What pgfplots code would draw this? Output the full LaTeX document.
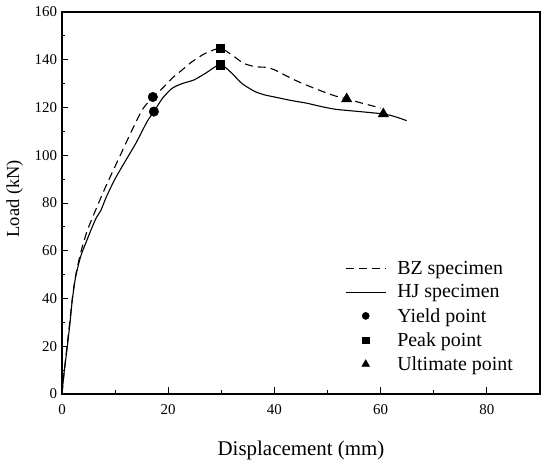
\documentclass[border=0pt]{standalone}
\usepackage{pgfplots}
\pgfplotsset{compat=1.18}
\usepackage{fontspec}
\setmainfont{Liberation Serif}
\pgfplotsset{
  legmark/.style={legend image code/.code={\draw[mark repeat=2,mark phase=2,##1,mark size=#1] plot coordinates {(0bp,0bp) (20bp,0bp) (40bp,0bp)};}},
}
\begin{document}
\begin{tikzpicture}
\path[use as bounding box] (-62bp,-71bp) rectangle (488bp,394bp);
\begin{axis}[
  at={(0,0)}, anchor=south west,
  scale only axis, width=478bp, height=382bp,
  xmin=0, xmax=90, ymin=0, ymax=160,
  xtick={0,20,...,80}, ytick={0,20,...,160},
  minor x tick num=1, minor y tick num=1,
  tick align=inside, xtick pos=bottom, ytick pos=left,
  major tick length=6.5bp, minor tick length=3.5bp,
  axis line style={line width=1.2bp},
  tick style={black, line width=0.9bp},
  tick label style={font=\fontsize{15}{18}\selectfont},
  xticklabel style={yshift=-7.5bp},
  yticklabel style={xshift=-1.5bp},
  /pgf/number format/assume math mode=true,
  xlabel={Displacement (mm)}, ylabel={Load (kN)},
  xlabel style={font=\fontsize{21}{25}\selectfont, at={(axis description cs:0.5,-0.147)}, anchor=center},
  ylabel style={font=\fontsize{18.5}{22}\selectfont, at={(axis description cs:-0.099,0.511)}, anchor=center},
  legend cell align=left,
  legend style={draw=none, fill=none, at={(axis description cs:0.592,0.348)}, anchor=north west,
    font=\fontsize{20}{24}\selectfont, inner sep=0pt, row sep=8.8bp,
    nodes={inner sep=0pt},
    /tikz/every odd column/.append style={column sep=11bp}},
  legend image code/.code={\draw[mark repeat=2,mark phase=2,#1] plot coordinates {(0bp,0bp) (20bp,0bp) (40bp,0bp)};},
]
\addplot[black, line width=1.1bp, dash pattern=on 8bp off 5bp, smooth, tension=0.4] coordinates {
(0,0) (0.4,9) (1,21) (1.5,31) (2,41) (2.6,50) (3.5,59) (4.8,68.7) (6.8,79.5) (8.5,88.2)
(11,100.1) (12.9,109.2) (15.1,119) (17.1,124.4) (18.9,128) (20.7,132.2) (22.6,135.7)
(24.5,139.2) (27,142.7) (29.8,144.8) (32,142) (34.2,138.5) (36.4,137.1) (38.5,136.8)
(40,135.8) (42,133.5) (44.5,130.8) (47,128.5) (49.2,126.6) (51.5,124.8) (53.6,123.6)
(56.5,121.8) (59.3,120.2) (60,119.8)
};
\addlegendentry{BZ specimen}
\addplot[black, line width=1.1bp, smooth, tension=0.4] coordinates {
(0,0) (0.38,8.7) (1,19.8) (1.5,29.6) (1.94,39.4) (2.57,49.1) (3.5,57.5) (4.45,63.1)
(5.7,70) (6.5,74) (7.3,76.8) (8.3,82.3) (9.8,89.3) (11.3,95.2) (13.9,105) (16,114)
(17.3,118.3) (18.9,123.8) (20.7,128) (22.6,130) (24.8,131.5) (27,134.3) (29.8,138)
(32,134.3) (33.9,130) (36.4,126.6) (38.3,125.2) (39.8,124.5) (43,123) (46.1,121.8)
(49,120.3) (51.7,119.2) (56,118.3) (60.5,117.3) (62.5,116.3) (64.9,114.5)
};
\addlegendentry{HJ specimen}
\addplot[black, only marks, mark=*, mark size=4.8bp, legmark=3.6bp]
  coordinates {(17.1,124.4) (17.3,118.3)};
\addlegendentry{Yield point}
\addplot[black, only marks, mark=square*, mark size=4.4bp, legmark=3.1bp]
  coordinates {(29.8,144.8) (29.8,138)};
\addlegendentry{Peak point}
\addplot[black, only marks, mark=triangle*, mark size=6bp, legmark=4.5bp]
  coordinates {(53.6,123.6) (60.5,117.3)};
\addlegendentry{Ultimate point}
\end{axis}
\end{tikzpicture}
\end{document}
